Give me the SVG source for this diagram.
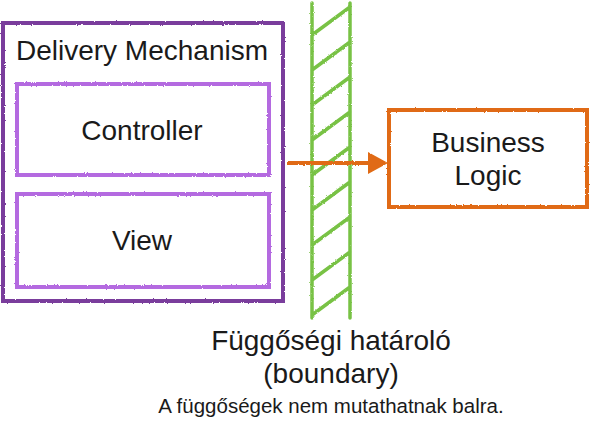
<svg xmlns="http://www.w3.org/2000/svg" width="590" height="442" viewBox="0 0 590 442">
<style>
text{font-family:"Liberation Sans",Arial,sans-serif;fill:#1a1a1a;text-anchor:middle;font-weight:normal}
.big{font-size:28px}
.small{font-size:20.5px}
.box{fill:none;stroke-width:4;filter:url(#rough)}
.outer{stroke:#7a3d9c}
.inner{stroke:#b46ae0}
.biz{stroke:#e06a12}
.wall{stroke:#78c244;stroke-width:3.5;fill:none;stroke-linecap:round;filter:url(#rough)}
.conn{stroke:#e06a12;stroke-width:4;fill:none;filter:url(#rough)}
</style>
<defs>
<filter id="rough" filterUnits="userSpaceOnUse" x="0" y="0" width="590" height="442">
<feTurbulence type="fractalNoise" baseFrequency="0.9" numOctaves="2" seed="3" result="n"/>
<feDisplacementMap in="SourceGraphic" in2="n" scale="2.2" xChannelSelector="R" yChannelSelector="G"/>
</filter>
</defs>
<g id="boundary">
<path class="wall" d="M312,3 V318 M350,3 V318 M312,35 L350,7 M312,70 L350,42 M312,105 L350,77 M312,140 L350,112 M312,175 L350,147 M312,210 L350,182 M312,245 L350,217 M312,280 L350,252 M312,315 L350,287"/>
<text class="big" x="331" y="350">Függőségi határoló</text>
<text class="big" x="331" y="383">(boundary)</text>
<text class="small" x="331" y="413">A függőségek nem mutathatnak balra.</text>
</g>
<g id="delivery-mechanism">
<rect class="box outer" x="3" y="23" width="280" height="278"/>
<text class="big" x="142" y="60">Delivery Mechanism</text>
</g>
<g id="controller">
<rect class="box inner" x="17" y="84" width="252" height="91"/>
<text class="big" x="142" y="140">Controller</text>
</g>
<g id="view">
<rect class="box inner" x="17" y="194" width="252" height="93"/>
<text class="big" x="142" y="250">View</text>
</g>
<g id="business-logic">
<rect class="box biz" x="389" y="110" width="198" height="97"/>
<text class="big" x="488" y="152">Business</text>
<text class="big" x="488" y="185">Logic</text>
</g>
<g id="connectors">
<path class="conn" d="M287,163 H370"/>
<path d="M368,152 L388,163 L368,174 Z" fill="#e06a12" filter="url(#rough)"/>
</g>
</svg>
